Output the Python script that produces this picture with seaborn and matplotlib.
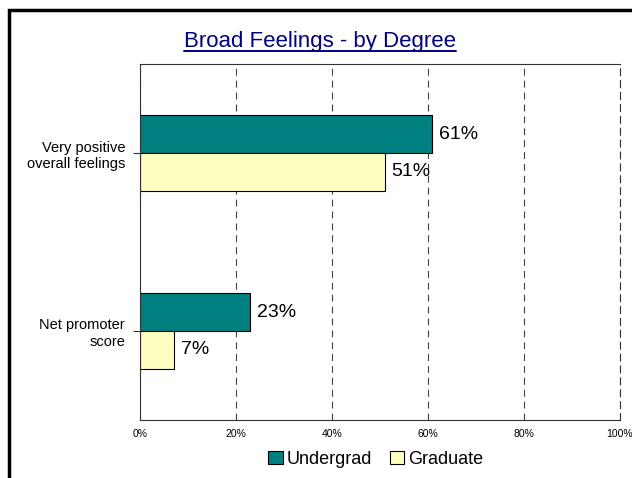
import pandas as pd
import matplotlib.pyplot as plt
import seaborn as sns
from matplotlib.lines import Line2D
from matplotlib.patches import Rectangle

# Chart data
categories = ["Very positive\noverall feelings", "Net promoter\nscore"]
groups = ["Undergrad", "Graduate"]
undergrad = [61, 23]
graduate = [51, 7]
x_ticks = [0, 20, 40, 60, 80, 100]
colors = ["#008080", "#FFFFC0"]

data = pd.DataFrame({
    "Item": categories * 2,
    "Degree": [groups[0]] * len(categories) + [groups[1]] * len(categories),
    "Percent": undergrad + graduate,
})

sns.set_theme(style="white")
plt.rcParams['font.family'] = ['Liberation Sans', 'DejaVu Sans']
plt.rcParams['text.color'] = 'black'

fig = plt.figure(figsize=(6.32, 4.78), dpi=100)
W, H = 632, 478
ax = fig.add_axes([140 / W, 58.3 / H, 479.5 / W, 355.4 / H])

sns.barplot(data=data, x="Percent", y="Item", hue="Degree", orient="h",
            palette=colors, saturation=1, width=0.424, edgecolor="black",
            linewidth=0.8, ax=ax)

# value labels
for container in ax.containers:
    ax.bar_label(container, fmt="%d%%", padding=5, fontsize=14, color="black")

ax.set_xlim(0, 100)
ax.set_xticks(x_ticks)
ax.set_xticklabels([f"{t}%" for t in x_ticks])
ax.set_xlabel("")
ax.set_ylabel("")
ax.tick_params(axis="x", length=0, pad=6.5, labelsize=7.5, labelcolor="black")
ax.tick_params(axis="y", left=True, length=5.3, width=0.8, pad=5.5,
               labelsize=10.5, color="#333333", labelcolor="black")

# dashed vertical gridlines
dash = (0, (6.2, 4.5))
ax.set_axisbelow(True)
ax.xaxis.grid(True, color="#404040", linestyle=dash, linewidth=0.8)
for side in ["left", "top", "bottom", "right"]:
    ax.spines[side].set_color("#333333")
    ax.spines[side].set_linewidth(0.8)
ax.spines["right"].set_linestyle(dash)

# legend below the chart
handles, labels = ax.get_legend_handles_labels()
ax.get_legend().remove()
fig.legend(handles, labels, loc="center", bbox_to_anchor=(375.5 / W, 1 - 459.4 / H),
           ncol=2, frameon=False, fontsize=13, handlelength=0.8, handleheight=0.75,
           handletextpad=0.2, columnspacing=1.0, borderpad=0, labelcolor="black")

# title with underline
title = fig.text(320 / W, 1 - 47 / H, "Broad Feelings - by Degree", ha="center",
                 va="baseline", fontsize=16, color="#000080")
fig.canvas.draw()
bb = title.get_window_extent()
fig.add_artist(Line2D([bb.x0 / W, bb.x1 / W], [1 - 51.3 / H] * 2,
                      transform=fig.transFigure, color="#000080", linewidth=1.4))

# outer frame (runs off the right and bottom edges)
fig.add_artist(Rectangle((9 / W, -0.1), 1.0, 1 - 10.5 / H + 0.1, fill=False,
                         edgecolor="black", linewidth=2.5, transform=fig.transFigure,
                         clip_on=False))

fig.savefig("out.png", dpi=100)
